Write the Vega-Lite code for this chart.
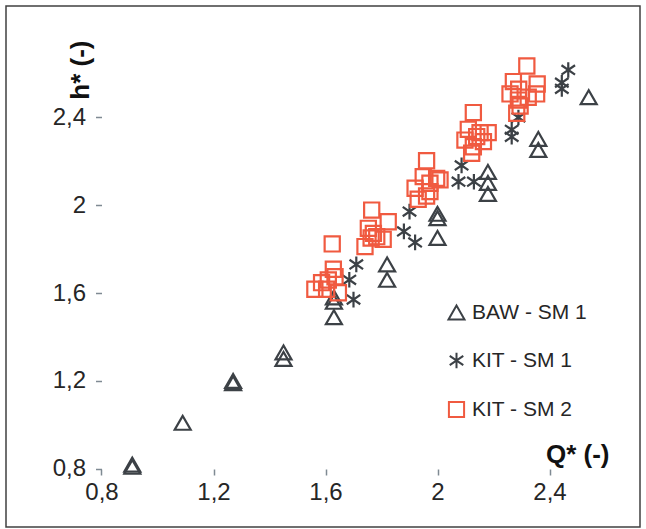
{
  "$schema": "https://vega.github.io/schema/vega-lite/v6.json",
  "width": 634,
  "height": 521,
  "autosize": {"type": "none"},
  "padding": {"left": 6, "top": 6, "right": 6, "bottom": 2},
  "background": "white",
  "config": {
    "view": {"stroke": "#404040", "strokeWidth": 1.5},
    "font": "Liberation Sans"
  },
  "datasets": {
    "points": [
      {"series": "BAW - SM 1", "q": 0.91, "h": 0.82},
      {"series": "BAW - SM 1", "q": 0.91, "h": 0.81},
      {"series": "BAW - SM 1", "q": 1.09, "h": 1.01},
      {"series": "BAW - SM 1", "q": 1.27, "h": 1.19},
      {"series": "BAW - SM 1", "q": 1.27, "h": 1.20},
      {"series": "BAW - SM 1", "q": 1.45, "h": 1.33},
      {"series": "BAW - SM 1", "q": 1.45, "h": 1.30},
      {"series": "BAW - SM 1", "q": 1.63, "h": 1.58},
      {"series": "BAW - SM 1", "q": 1.63, "h": 1.56},
      {"series": "BAW - SM 1", "q": 1.63, "h": 1.49},
      {"series": "BAW - SM 1", "q": 1.82, "h": 1.73},
      {"series": "BAW - SM 1", "q": 1.82, "h": 1.66},
      {"series": "BAW - SM 1", "q": 2.0, "h": 1.96},
      {"series": "BAW - SM 1", "q": 2.0, "h": 1.94},
      {"series": "BAW - SM 1", "q": 2.0, "h": 1.85},
      {"series": "BAW - SM 1", "q": 2.18, "h": 2.15},
      {"series": "BAW - SM 1", "q": 2.18, "h": 2.10},
      {"series": "BAW - SM 1", "q": 2.18, "h": 2.05},
      {"series": "BAW - SM 1", "q": 2.36, "h": 2.30},
      {"series": "BAW - SM 1", "q": 2.36, "h": 2.25},
      {"series": "BAW - SM 1", "q": 2.54, "h": 2.49},
      {"series": "KIT - SM 1", "q": 1.70, "h": 1.57},
      {"series": "KIT - SM 1", "q": 1.685, "h": 1.66},
      {"series": "KIT - SM 1", "q": 1.71, "h": 1.73},
      {"series": "KIT - SM 1", "q": 1.88, "h": 1.88},
      {"series": "KIT - SM 1", "q": 1.90, "h": 1.97},
      {"series": "KIT - SM 1", "q": 1.92, "h": 1.83},
      {"series": "KIT - SM 1", "q": 2.086, "h": 2.18},
      {"series": "KIT - SM 1", "q": 2.075, "h": 2.106},
      {"series": "KIT - SM 1", "q": 2.13, "h": 2.106},
      {"series": "KIT - SM 1", "q": 2.265, "h": 2.342},
      {"series": "KIT - SM 1", "q": 2.265, "h": 2.31},
      {"series": "KIT - SM 1", "q": 2.289, "h": 2.398},
      {"series": "KIT - SM 1", "q": 2.444, "h": 2.528},
      {"series": "KIT - SM 1", "q": 2.444, "h": 2.556},
      {"series": "KIT - SM 1", "q": 2.467, "h": 2.614},
      {"series": "KIT - SM 2", "q": 1.562, "h": 1.617},
      {"series": "KIT - SM 2", "q": 1.586, "h": 1.647},
      {"series": "KIT - SM 2", "q": 1.604, "h": 1.617},
      {"series": "KIT - SM 2", "q": 1.628, "h": 1.708},
      {"series": "KIT - SM 2", "q": 1.634, "h": 1.674},
      {"series": "KIT - SM 2", "q": 1.646, "h": 1.601},
      {"series": "KIT - SM 2", "q": 1.61, "h": 1.659},
      {"series": "KIT - SM 2", "q": 1.624, "h": 1.823},
      {"series": "KIT - SM 2", "q": 1.765, "h": 1.977},
      {"series": "KIT - SM 2", "q": 1.753, "h": 1.894},
      {"series": "KIT - SM 2", "q": 1.771, "h": 1.871},
      {"series": "KIT - SM 2", "q": 1.824, "h": 1.924},
      {"series": "KIT - SM 2", "q": 1.741, "h": 1.811},
      {"series": "KIT - SM 2", "q": 1.806, "h": 1.844},
      {"series": "KIT - SM 2", "q": 1.783, "h": 1.856},
      {"series": "KIT - SM 2", "q": 1.763, "h": 1.85},
      {"series": "KIT - SM 2", "q": 1.961, "h": 2.201},
      {"series": "KIT - SM 2", "q": 1.949, "h": 2.129},
      {"series": "KIT - SM 2", "q": 1.92, "h": 2.076},
      {"series": "KIT - SM 2", "q": 1.973, "h": 2.099},
      {"series": "KIT - SM 2", "q": 2.009, "h": 2.114},
      {"series": "KIT - SM 2", "q": 1.997, "h": 2.121},
      {"series": "KIT - SM 2", "q": 1.961, "h": 2.041},
      {"series": "KIT - SM 2", "q": 1.931, "h": 2.026},
      {"series": "KIT - SM 2", "q": 1.973, "h": 2.061},
      {"series": "KIT - SM 2", "q": 2.128, "h": 2.42},
      {"series": "KIT - SM 2", "q": 2.11, "h": 2.344},
      {"series": "KIT - SM 2", "q": 2.152, "h": 2.329},
      {"series": "KIT - SM 2", "q": 2.181, "h": 2.329},
      {"series": "KIT - SM 2", "q": 2.098, "h": 2.295},
      {"series": "KIT - SM 2", "q": 2.14, "h": 2.311},
      {"series": "KIT - SM 2", "q": 2.122, "h": 2.235},
      {"series": "KIT - SM 2", "q": 2.128, "h": 2.265},
      {"series": "KIT - SM 2", "q": 2.164, "h": 2.288},
      {"series": "KIT - SM 2", "q": 2.319, "h": 2.632},
      {"series": "KIT - SM 2", "q": 2.271, "h": 2.561},
      {"series": "KIT - SM 2", "q": 2.356, "h": 2.55},
      {"series": "KIT - SM 2", "q": 2.354, "h": 2.505},
      {"series": "KIT - SM 2", "q": 2.259, "h": 2.505},
      {"series": "KIT - SM 2", "q": 2.29, "h": 2.526},
      {"series": "KIT - SM 2", "q": 2.324, "h": 2.49},
      {"series": "KIT - SM 2", "q": 2.289, "h": 2.477},
      {"series": "KIT - SM 2", "q": 2.295, "h": 2.45},
      {"series": "KIT - SM 2", "q": 2.283, "h": 2.417}
    ]
  },
  "layer": [
    {
      "mark": {"type": "rule", "color": "#7f8a93", "strokeWidth": 1.6},
      "encoding": {
        "x": {"datum": 0.8, "type": "quantitative"},
        "y": {"datum": 0.79, "type": "quantitative"},
        "y2": {"datum": 2.69}
      }
    },
    {
      "mark": {"type": "rule", "color": "#7f8a93", "strokeWidth": 1.6},
      "encoding": {
        "x": {"datum": 0.8, "type": "quantitative"},
        "x2": {"datum": 2.605},
        "y": {"datum": 0.8, "type": "quantitative"}
      }
    },
    {
      "data": {"name": "points"},
      "mark": {"type": "point", "filled": false, "strokeWidth": 2.2, "opacity": 1},
      "encoding": {
        "x": {
          "field": "q",
          "type": "quantitative",
          "scale": {"domain": [0.45893, 2.72321], "nice": false, "zero": false},
          "axis": {
            "orient": "bottom",
            "offset": -58,
            "domain": false,
            "grid": false,
            "values": [0.8, 1.2, 1.6, 2, 2.4],
            "labelExpr": "replace(toString(datum.value), '.', ',')",
            "labelFontSize": 24,
            "labelColor": "#262626",
            "labelPadding": 5,
            "tickSize": 6,
            "tickColor": "#7f8a93",
            "tickWidth": 1.5,
            "title": "Q* (-)",
            "titleFontSize": 26,
            "titleFontWeight": "bold",
            "titleColor": "#111111",
            "titleAlign": "right",
            "titleBaseline": "alphabetic",
            "titleX": 603,
            "titleY": -7
          }
        },
        "y": {
          "field": "h",
          "type": "quantitative",
          "scale": {"domain": [0.53636, 2.90455], "nice": false, "zero": false},
          "axis": {
            "orient": "left",
            "offset": -95.5,
            "domain": false,
            "grid": false,
            "values": [0.8, 1.2, 1.6, 2, 2.4],
            "labelExpr": "replace(toString(datum.value), '.', ',')",
            "labelFontSize": 24,
            "labelColor": "#262626",
            "labelPadding": 10,
            "tickSize": 6,
            "tickColor": "#7f8a93",
            "tickWidth": 1.5,
            "title": "h* (-)",
            "titleFontSize": 26,
            "titleFontWeight": "bold",
            "titleColor": "#111111",
            "titleAngle": -90,
            "titleAlign": "right",
            "titleBaseline": "alphabetic",
            "titleX": -13.5,
            "titleY": 34
          }
        },
        "color": {
          "field": "series",
          "type": "nominal",
          "scale": {
            "domain": ["BAW - SM 1", "KIT - SM 1", "KIT - SM 2"],
            "range": ["#3c4146", "#3c4146", "#f05a40"]
          },
          "legend": {
            "orient": "none",
            "legendX": 440,
            "legendY": 296,
            "title": null,
            "labelFontSize": 21,
            "labelColor": "#262626",
            "labelOffset": 5,
            "rowPadding": 24,
            "symbolSize": 160,
            "symbolStrokeWidth": 2,
            "symbolFillColor": "transparent",
            "padding": 0
          }
        },
        "shape": {
          "field": "series",
          "type": "nominal",
          "scale": {
            "domain": ["BAW - SM 1", "KIT - SM 1", "KIT - SM 2"],
            "range": ["triangle-up", "M0,-1L0,1M-0.87,-0.6L0.87,0.6M-0.87,0.6L0.87,-0.6", "square"]
          }
        },
        "size": {
          "field": "series",
          "type": "nominal",
          "scale": {
            "domain": ["BAW - SM 1", "KIT - SM 1", "KIT - SM 2"],
            "range": [256, 230, 225]
          },
          "legend": null
        }
      }
    }
  ]
}
